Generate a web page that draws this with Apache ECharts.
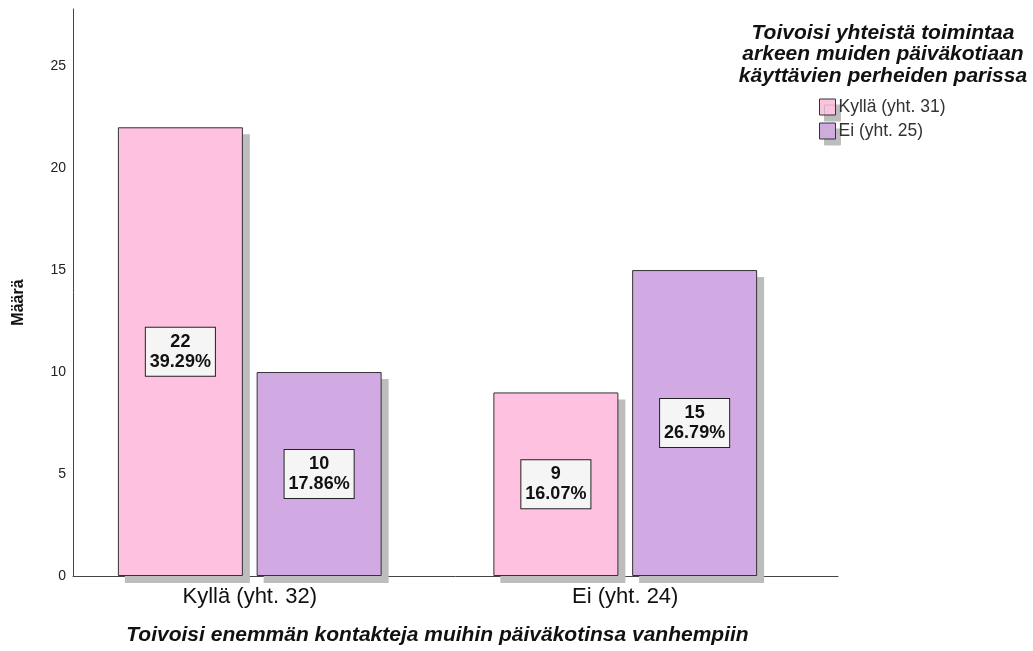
<!DOCTYPE html>
<html>
<head>
<meta charset="utf-8">
<script src="https://cdn.jsdelivr.net/npm/echarts@6/dist/echarts.min.js"></script>
<style>
html,body{margin:0;padding:0;background:#fff;}
#chart{width:1033px;height:651px;}
</style>
</head>
<body>
<div id="chart"></div>
<script>
// kategoriat (x-akseli) ja sarjat
var categories = ['Kyllä (yht. 32)', 'Ei (yht. 24)'];
var seriesNames = ['Kyllä (yht. 31)', 'Ei (yht. 25)'];
var kyllaValues = [22, 9];
var eiValues = [10, 15];
var yTicks = [0, 5, 10, 15, 20, 25];

var colors = ['#fec1e0', '#d1aae4'];
var shadowColor = '#bdbdbd';
var fontFam = "Arial, 'Liberation Sans', sans-serif";
var total = kyllaValues.concat(eiValues).reduce(function(a, b){ return a + b; }, 0);
var yMax = 27.8;

function barLabel(p){
    return p.value + '\n' + (p.value / total * 100).toFixed(2) + '%';
}

function makeSeries(name, data, color){
    return {
        name: name,
        type: 'bar',
        xAxisIndex: 0,
        yAxisIndex: 0,
        z: 3,
        data: data,
        barWidth: 125,
        barGap: '11%',
        itemStyle: {
            color: color,
            borderColor: '#333',
            borderWidth: 1
        },
        label: {
            show: true,
            position: 'inside',
            formatter: barLabel,
            fontFamily: fontFam,
            fontSize: 18,
            fontWeight: 'bold',
            lineHeight: 20,
            color: '#111',
            backgroundColor: '#f5f5f5',
            borderColor: '#222',
            borderWidth: 1,
            padding: [5, 4, 3, 4]
        }
    };
}

// varjot: samat arvot, siirretty omaan gridiin 7px oikealle ja alas
function makeShadow(name, data){
    return {
        name: name,
        type: 'bar',
        xAxisIndex: 2,
        yAxisIndex: 2,
        z: 1,
        silent: true,
        data: data,
        barWidth: 125,
        barGap: '11%',
        itemStyle: {color: shadowColor}
    };
}

var chart = echarts.init(document.getElementById('chart'));
var option = {
    animation: false,
    textStyle: {fontFamily: fontFam},
    title: {
        text: 'Toivoisi yhteistä toimintaa\narkeen muiden päiväkotiaan\nkäyttävien perheiden parissa',
        left: 883,
        top: 22,
        padding: 0,
        textAlign: 'center',
        textStyle: {
            fontFamily: fontFam,
            fontSize: 21,
            fontWeight: 'bold',
            fontStyle: 'italic',
            lineHeight: 21.5,
            color: '#111'
        }
    },
    legend: {
        orient: 'vertical',
        left: 819,
        top: 98,
        padding: 0,
        icon: 'rect',
        itemWidth: 16,
        itemHeight: 16,
        itemGap: 6,
        data: seriesNames,
        itemStyle: {
            borderColor: '#333',
            borderWidth: 1,
            shadowColor: shadowColor,
            shadowBlur: 0,
            shadowOffsetX: 5,
            shadowOffsetY: 6
        },
        textStyle: {fontFamily: fontFam, fontSize: 17.5, lineHeight: 17, color: '#333', padding: [0, 0, 0, -2]}
    },
    grid: [
        {left: 62, width: 751, top: 9, bottom: 75},
        {left: 73, right: 195, top: 9, bottom: 75},
        {left: 69, width: 751, top: 16, bottom: 68}
    ],
    xAxis: [
        {
            type: 'category',
            gridIndex: 0,
            data: categories,
            axisLine: {show: false},
            axisTick: {show: false},
            axisLabel: {fontFamily: fontFam, fontSize: 22, color: '#111', margin: 10},
            name: 'Toivoisi enemmän kontakteja muihin päiväkotinsa vanhempiin',
            nameLocation: 'middle',
            nameGap: 49,
            nameTextStyle: {fontFamily: fontFam, fontSize: 21, fontWeight: 'bold', fontStyle: 'italic', color: '#111'}
        },
        {
            type: 'value',
            gridIndex: 1,
            min: 0,
            max: 1,
            axisLine: {show: true, lineStyle: {color: '#444', width: 1}},
            axisTick: {show: false},
            axisLabel: {show: false},
            splitLine: {show: false}
        },
        {
            type: 'category',
            gridIndex: 2,
            data: categories,
            show: false
        }
    ],
    yAxis: [
        {
            type: 'value',
            gridIndex: 0,
            min: 0,
            max: yMax,
            show: false,
            splitLine: {show: false}
        },
        {
            type: 'value',
            gridIndex: 1,
            min: 0,
            max: yMax,
            interval: 5,
            axisLine: {show: true, lineStyle: {color: '#444', width: 1}},
            axisTick: {show: false},
            splitLine: {show: false},
            axisLabel: {
                fontFamily: fontFam,
                fontSize: 14,
                color: '#222',
                margin: 7,
                showMaxLabel: false,
                formatter: function(v){ return yTicks.indexOf(v) >= 0 ? String(v) : ''; }
            },
            name: 'Määrä',
            nameLocation: 'middle',
            nameRotate: 90,
            nameGap: 46,
            nameTextStyle: {fontFamily: fontFam, fontSize: 16, fontWeight: 'bold', color: '#111', padding: [0, 20, 0, 0]}
        },
        {
            type: 'value',
            gridIndex: 2,
            min: 0,
            max: yMax,
            show: false,
            splitLine: {show: false}
        }
    ],
    series: [
        makeShadow('varjo1', kyllaValues),
        makeShadow('varjo2', eiValues),
        makeSeries(seriesNames[0], kyllaValues, colors[0]),
        makeSeries(seriesNames[1], eiValues, colors[1])
    ]
};
chart.setOption(option);
</script>
</body>
</html>
